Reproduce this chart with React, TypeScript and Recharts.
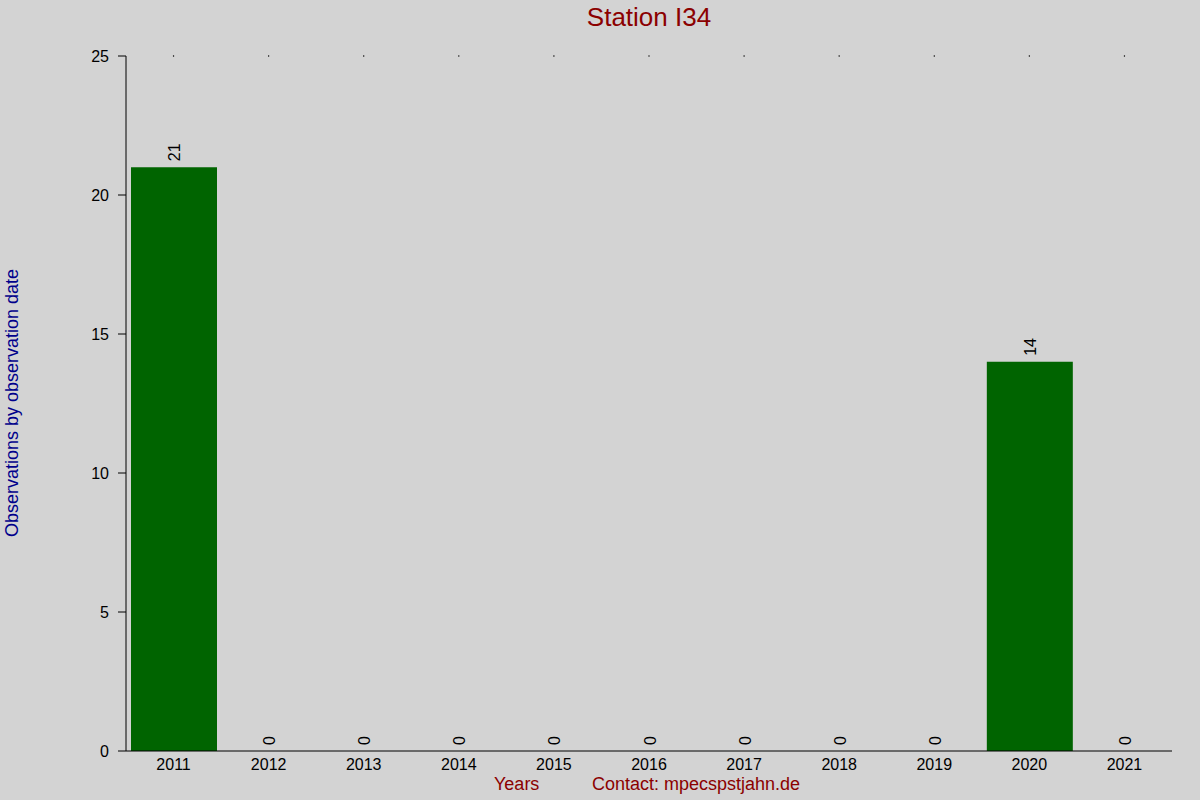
import React from 'react';
import { ComposedChart, Bar, Line, XAxis, YAxis, Label, ReferenceDot } from 'recharts';

const years = ['2011', '2012', '2013', '2014', '2015', '2016', '2017', '2018', '2019', '2020', '2021'];
const observations = [21, 0, 0, 0, 0, 0, 0, 0, 0, 14, 0];
const yTicks = [0, 5, 10, 15, 20, 25];
const yMax = 25;

const data = years.map((year, i) => ({ year, count: observations[i] }));

const FONT = '"Liberation Sans", Arial, sans-serif';
const RED = '#8B0000';
const BLUE = '#00008B';

function BarValue(props: any) {
  const { x, y, value } = props;
  const cx = x + 1;
  const cy = y - 6;
  return (
    <text
      x={cx}
      y={cy}
      transform={`rotate(-90 ${cx} ${cy})`}
      textAnchor="start"
      dominantBaseline="central"
      fontSize={16}
      fontFamily={FONT}
      fill="#000"
    >
      {value}
    </text>
  );
}

function YTitle() {
  return (
    <text
      x={12}
      y={403}
      transform="rotate(-90 12 403)"
      textAnchor="middle"
      dominantBaseline="central"
      fontSize={18}
      fontFamily={FONT}
      fill={BLUE}
    >
      Observations by observation date
    </text>
  );
}

export default function App() {
  return (
    <div style={{ position: 'absolute', left: 0, top: 0, width: 1200, height: 800, background: '#D3D3D3', fontFamily: FONT }}>
      <div style={{ position: 'absolute', left: 126, width: 1046, top: 2, textAlign: 'center', fontSize: 26, color: RED }}>
        Station I34
      </div>
      <div style={{ position: 'absolute', left: 494, top: 774, fontSize: 18, color: RED }}>Years</div>
      <div style={{ position: 'absolute', left: 592, top: 774, fontSize: 18, color: RED }}>Contact: mpecspstjahn.de</div>
      <ComposedChart width={1200} height={800} data={data} margin={{ top: 56, right: 28, left: 0, bottom: 0 }}>
        <XAxis
          dataKey="year"
          height={49}
          stroke="#000"
          axisLine={{ stroke: '#000' }}
          tickLine={false}
          tick={{ fill: '#000', fontSize: 16, fontFamily: FONT }}
        />
        <YAxis
          width={126}
          domain={[0, yMax]}
          ticks={yTicks}
          stroke="#000"
          axisLine={{ stroke: '#000' }}
          tickLine={{ stroke: '#000' }}
          tickSize={8}
          tickMargin={9}
          tick={{ fill: '#000', fontSize: 16, fontFamily: FONT }}
        >
          <Label content={<YTitle />} />
        </YAxis>
        {years.map((year) => (
          <ReferenceDot key={year} x={year} y={yMax} r={0.7} fill="#000" stroke="none" />
        ))}
        <Bar dataKey="count" fill="#006400" barSize={86} isAnimationActive={false} />
        <Line
          dataKey="count"
          stroke="none"
          dot={false}
          activeDot={false}
          label={<BarValue />}
          isAnimationActive={false}
        />
      </ComposedChart>
    </div>
  );
}
